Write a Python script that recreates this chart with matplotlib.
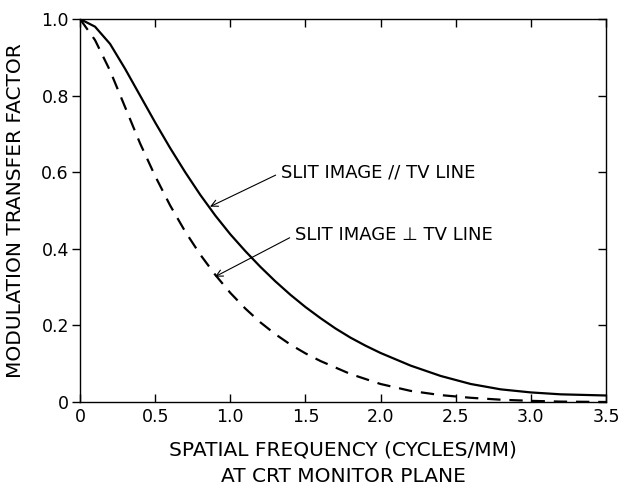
import matplotlib
matplotlib.use("Agg")
import matplotlib.pyplot as plt
from matplotlib.lines import TICKLEFT

# Data
freq_solid = [0.0, 0.1, 0.2, 0.3, 0.4, 0.5, 0.6, 0.7, 0.8, 0.9, 1.0, 1.1, 1.2, 1.3, 1.4,
              1.5, 1.6, 1.7, 1.8, 1.9, 2.0, 2.2, 2.4, 2.6, 2.8, 3.0, 3.2, 3.5]
mtf_parallel = [1.0, 0.98, 0.935, 0.87, 0.80, 0.73, 0.663, 0.60, 0.541, 0.487, 0.438, 0.394,
                0.353, 0.315, 0.28, 0.248, 0.219, 0.192, 0.168, 0.147, 0.128, 0.095, 0.068,
                0.047, 0.033, 0.025, 0.02, 0.017]

freq_dashed = [0.0, 0.1, 0.2, 0.3, 0.4, 0.5, 0.6, 0.7, 0.8, 0.9, 1.0, 1.1, 1.2, 1.3, 1.4,
               1.5, 1.6, 1.8, 2.0, 2.2, 2.4, 2.6, 2.8, 3.0, 3.2, 3.5]
mtf_perp = [1.0, 0.945, 0.865, 0.77, 0.675, 0.59, 0.513, 0.445, 0.385, 0.332, 0.285, 0.244,
            0.208, 0.177, 0.15, 0.127, 0.107, 0.073, 0.047, 0.029, 0.018, 0.011, 0.006,
            0.003, 0.001, 0.0]

x_ticks = [0, 0.5, 1.0, 1.5, 2.0, 2.5, 3.0, 3.5]
x_ticklabels = ["0", "0.5", "1.0", "1.5", "2.0", "2.5", "3.0", "3.5"]
y_ticks = [0, 0.2, 0.4, 0.6, 0.8, 1.0]
y_ticklabels = ["0", "0.2", "0.4", "0.6", "0.8", "1.0"]

label_parallel = "SLIT IMAGE // TV LINE"
label_perp = "SLIT IMAGE \u22a5 TV LINE"

plt.rcParams['font.family'] = ['DejaVu Sans']

fig = plt.figure(figsize=(6.29, 4.88), dpi=100)
ax = fig.add_axes([80/629, 1-402/488, (606-80)/629, (402-19)/488])

ax.plot(freq_solid, mtf_parallel, color='black', lw=1.6, solid_capstyle='round',
        solid_joinstyle='round')
ax.plot(freq_dashed, mtf_perp, color='black', lw=1.6, dashes=(6, 4))

ax.set_xlim(0, 3.5)
ax.set_ylim(0, 1.0)
ax.set_xticks(x_ticks)
ax.set_xticklabels(x_ticklabels)
ax.set_yticks(y_ticks)
ax.set_yticklabels(y_ticklabels)

ax.tick_params(axis='x', direction='in', top=True, length=6, width=1, labelsize=12.5, pad=4)
ax.tick_params(axis='y', direction='out', right=True, length=6, width=1, labelsize=12.5, pad=2)
for t in ax.yaxis.get_ticklines()[1::2]:
    t.set_marker(TICKLEFT)
for s in ax.spines.values():
    s.set_linewidth(1.0)

ax.set_xlabel("SPATIAL FREQUENCY (CYCLES/MM)\nAT CRT MONITOR PLANE", fontsize=14.5,
              labelpad=11, linespacing=1.45)
ax.set_ylabel("MODULATION TRANSFER FACTOR", fontsize=14.5, labelpad=12)

arrow = dict(arrowstyle='->', color='black', lw=0.8, shrinkA=2, shrinkB=0,
             mutation_scale=12)
ax.annotate(label_parallel, xy=(0.865, 0.51), xytext=(1.337, 0.599),
            fontsize=13, ha='left', va='center',
            arrowprops=dict(arrow, relpos=(0, 0.5)))
ax.annotate(label_perp, xy=(0.898, 0.327), xytext=(1.43, 0.436),
            fontsize=13, ha='left', va='center',
            arrowprops=dict(arrow, relpos=(0, 0.5)))

fig.savefig("out.png", dpi=100)
